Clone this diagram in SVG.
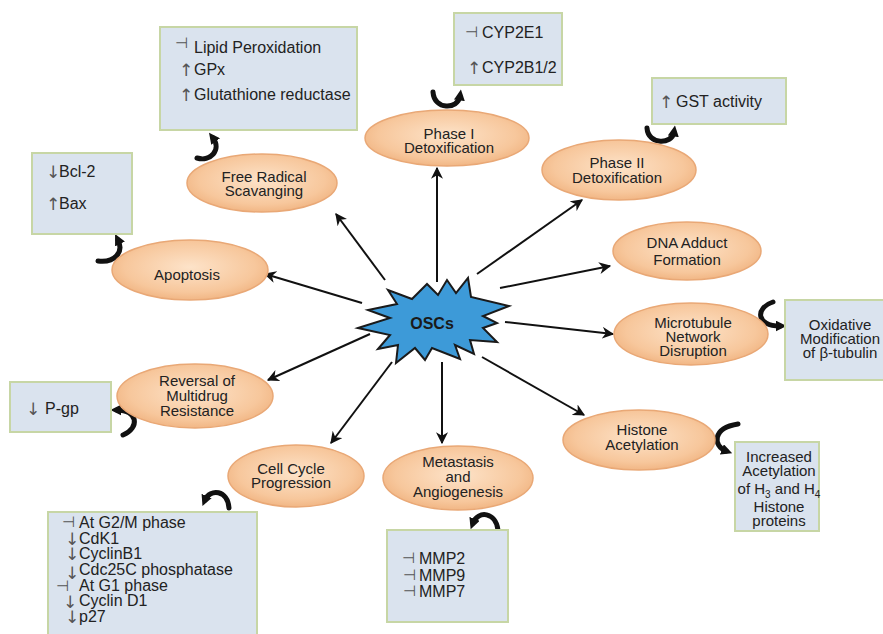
<svg xmlns="http://www.w3.org/2000/svg" width="883" height="634" viewBox="0 0 883 634">
<defs>
<radialGradient id="og" cx="50%" cy="45%" r="60%">
<stop offset="0" stop-color="#fde3c9"/>
<stop offset="0.7" stop-color="#f7c79c"/>
<stop offset="1" stop-color="#efb07c"/>
</radialGradient>
<marker id="ah" viewBox="0 0 10 10" refX="9" refY="5" markerWidth="12" markerHeight="12" markerUnits="userSpaceOnUse" orient="auto">
<path d="M0,0 L10,5 L0,10 L3,5 z" fill="#111"/>
</marker>
<marker id="ch" viewBox="0 0 10 10" refX="4" refY="5" markerWidth="11" markerHeight="11" markerUnits="userSpaceOnUse" orient="auto">
<path d="M0,0 L10,5 L0,10 z" fill="#111"/>
</marker>
<style>
.ov{fill:url(#og);stroke:#e9a876;stroke-width:1.5}
.bx{fill:#dae3ee;stroke:#c7d6a5;stroke-width:2}
.ot{font-family:"Liberation Sans",Arial,sans-serif;font-size:15px;fill:#222;text-anchor:middle}
.bt{font-family:"Liberation Sans",Arial,sans-serif;font-size:16px;fill:#222}
.sy{font-family:"DejaVu Sans",sans-serif;font-size:17px;fill:#555}
.si{font-family:"DejaVu Sans",sans-serif;font-size:15px;fill:#555}
.ln{stroke:#111;stroke-width:2;fill:none;marker-end:url(#ah)}
.cv{stroke:#111;stroke-width:5;fill:none;stroke-linecap:round;marker-end:url(#ch)}
</style>
</defs>
<rect width="883" height="634" fill="#fff"/>

<g id="connectors">
<line class="ln" x1="362" y1="303" x2="265" y2="274"/>
<line class="ln" x1="385" y1="280" x2="336" y2="214"/>
<line class="ln" x1="437" y1="282" x2="437" y2="168"/>
<line class="ln" x1="477" y1="274" x2="582" y2="200"/>
<line class="ln" x1="500" y1="288" x2="610" y2="266"/>
<line class="ln" x1="505" y1="322" x2="613" y2="334"/>
<line class="ln" x1="482" y1="357" x2="584" y2="415"/>
<line class="ln" x1="442" y1="362" x2="442" y2="443"/>
<line class="ln" x1="392" y1="362" x2="331" y2="443"/>
<line class="ln" x1="370" y1="334" x2="268" y2="380"/>
<path class="cv" d="M197,158 C210,162 222,150 213,138"/>
<path class="cv" d="M433,92 C434,110 458,110 460,96"/>
<path class="cv" d="M647,128 C648,145 672,145 674,132"/>
<path class="cv" d="M98,261 C115,263 124,252 118,240"/>
<path class="cv" d="M773,302 C755,308 756,326 780,326"/>
<path class="cv" d="M123,435 C140,428 138,410 117,410"/>
<path class="cv" d="M229,508 C228,490 210,488 205,500"/>
<path class="cv" d="M498,530 C496,512 478,510 473,523"/>
<path class="cv" d="M738,424 C712,428 713,446 726,451"/>
</g>

<g id="osc">
<polygon points="358,328 390,318 368,310 397,304 388,290 412,299 427,284 438,295 447,280 456,293 468,278 471,297 509,306 483,316 497,323 483,328 497,342 470,340 474,354 455,345 460,359 432,348 425,360 415,348 396,363 398,345 378,349 390,335" fill="#3d9ad8" stroke="#1a1a1a" stroke-width="2" stroke-linejoin="miter"/>
<text x="432" y="329" font-family="'Liberation Sans',Arial,sans-serif" font-size="16" font-weight="bold" fill="#1a1a1a" text-anchor="middle">OSCs</text>
</g>

<g id="free-radical">
<ellipse class="ov" cx="262" cy="183" rx="75" ry="29"/>
<text class="ot" x="264" y="182">Free Radical</text>
<text class="ot" x="264" y="196">Scavanging</text>
</g>
<g id="phase1">
<ellipse class="ov" cx="447" cy="138" rx="82" ry="28"/>
<text class="ot" x="449" y="139">Phase I</text>
<text class="ot" x="449" y="153">Detoxification</text>
</g>
<g id="phase2">
<ellipse class="ov" cx="619" cy="170" rx="77" ry="30"/>
<text class="ot" x="617" y="168">Phase II</text>
<text class="ot" x="617" y="183">Detoxification</text>
</g>
<g id="dna">
<ellipse class="ov" cx="687" cy="251" rx="74" ry="29"/>
<text class="ot" x="687" y="248">DNA Adduct</text>
<text class="ot" x="687" y="265">Formation</text>
</g>
<g id="microtubule">
<ellipse class="ov" cx="691" cy="334" rx="77" ry="31"/>
<text class="ot" x="693" y="328">Microtubule</text>
<text class="ot" x="693" y="342">Network</text>
<text class="ot" x="693" y="356">Disruption</text>
</g>
<g id="histone">
<ellipse class="ov" cx="639" cy="440" rx="76" ry="30"/>
<text class="ot" x="642" y="435">Histone</text>
<text class="ot" x="642" y="450">Acetylation</text>
</g>
<g id="metastasis">
<ellipse class="ov" cx="458" cy="478" rx="75" ry="32"/>
<text class="ot" x="458" y="467">Metastasis</text>
<text class="ot" x="458" y="482">and</text>
<text class="ot" x="458" y="497">Angiogenesis</text>
</g>
<g id="cell-cycle">
<ellipse class="ov" cx="296" cy="476" rx="68" ry="31"/>
<text class="ot" x="291" y="474">Cell Cycle</text>
<text class="ot" x="291" y="488">Progression</text>
</g>
<g id="reversal">
<ellipse class="ov" cx="195" cy="396" rx="78" ry="32"/>
<text class="ot" x="197" y="386">Reversal of</text>
<text class="ot" x="197" y="401">Multidrug</text>
<text class="ot" x="197" y="416">Resistance</text>
</g>
<g id="apoptosis">
<ellipse class="ov" cx="190" cy="270" rx="78" ry="30"/>
<text class="ot" x="187" y="280">Apoptosis</text>
</g>

<g id="box-free-radical">
<rect class="bx" x="160" y="27" width="197" height="103"/>
<text class="bt" y="53"><tspan class="si" x="175" dy="-5">⊣</tspan><tspan x="194" dy="5">Lipid Peroxidation</tspan></text>
<text class="bt" y="75"><tspan class="sy" x="179" dy="1">↑</tspan><tspan x="194" dy="-1">GPx</tspan></text>
<text class="bt" y="100"><tspan class="sy" x="179" dy="1">↑</tspan><tspan x="194" dy="-1">Glutathione reductase</tspan></text>
</g>
<g id="box-phase1">
<rect class="bx" x="454" y="13" width="108" height="72"/>
<text class="bt" y="38"><tspan class="si" x="465" dy="-1">⊣</tspan><tspan x="482" dy="1">CYP2E1</tspan></text>
<text class="bt" y="73"><tspan class="sy" x="467" dy="1">↑</tspan><tspan x="482" dy="-1">CYP2B1/2</tspan></text>
</g>
<g id="box-phase2">
<rect class="bx" x="652" y="78" width="134" height="46"/>
<text class="bt" y="107"><tspan class="sy" x="659" dy="1">↑</tspan><tspan x="676" dy="-1">GST activity</tspan></text>
</g>
<g id="box-apoptosis">
<rect class="bx" x="32" y="153" width="100" height="81"/>
<text class="bt" y="177"><tspan class="sy" x="46" dy="1">↓</tspan><tspan x="59" dy="-1">Bcl-2</tspan></text>
<text class="bt" y="209"><tspan class="sy" x="46" dy="1">↑</tspan><tspan x="59" dy="-1">Bax</tspan></text>
</g>
<g id="box-microtubule">
<rect class="bx" x="785" y="300" width="105" height="80"/>
<text class="ot" x="840" y="330">Oxidative</text>
<text class="ot" x="840" y="344">Modification</text>
<text class="ot" x="840" y="358">of β-tubulin</text>
</g>
<g id="box-reversal">
<rect class="bx" x="10" y="382" width="101" height="50"/>
<text class="bt" y="414"><tspan class="sy" x="26" dy="1">↓</tspan><tspan x="45" dy="-1">P-gp</tspan></text>
</g>
<g id="box-cell-cycle">
<rect class="bx" x="48" y="512" width="209" height="130"/>
<g class="bt" font-size="15.5">
<text y="528"><tspan class="si" x="62" dy="-1">⊣</tspan><tspan x="79" dy="1">At G2/M phase</tspan></text>
<text y="544"><tspan class="sy" x="65" dy="1">↓</tspan><tspan x="79" dy="-1">CdK1</tspan></text>
<text y="559"><tspan class="sy" x="65" dy="1">↓</tspan><tspan x="79" dy="-1">CyclinB1</tspan></text>
<text y="575"><tspan class="sy" x="65" dy="4">↓</tspan><tspan x="79" dy="-4">Cdc25C phosphatase</tspan></text>
<text y="591"><tspan class="si" x="56">⊣</tspan><tspan x="79">At G1 phase</tspan></text>
<text y="606"><tspan class="sy" x="63" dy="2">↓</tspan><tspan x="79" dy="-2">Cyclin D1</tspan></text>
<text y="622"><tspan class="sy" x="65" dy="1">↓</tspan><tspan x="79" dy="-1">p27</tspan></text>
</g>
</g>
<g id="box-metastasis">
<rect class="bx" x="387" y="530" width="121" height="92"/>
<g class="bt" font-size="15.5">
<text y="564"><tspan class="si" x="402" dy="-1">⊣</tspan><tspan x="419" dy="1">MMP2</tspan></text>
<text y="581"><tspan class="si" x="403" dy="-1">⊣</tspan><tspan x="419" dy="1">MMP9</tspan></text>
<text y="597"><tspan class="si" x="403" dy="-1">⊣</tspan><tspan x="419" dy="1">MMP7</tspan></text>
</g>
</g>
<g id="box-histone">
<rect class="bx" x="735" y="442" width="84" height="89"/>
<text class="ot" x="779" y="462">Increased</text>
<text class="ot" x="779" y="476">Acetylation</text>
<text class="ot" x="779" y="494">of H<tspan font-size="10" dy="4">3</tspan><tspan dy="-4"> and H</tspan><tspan font-size="10" dy="4">4</tspan></text>
<text class="ot" x="779" y="512">Histone</text>
<text class="ot" x="779" y="526">proteins</text>
</g>
</svg>
